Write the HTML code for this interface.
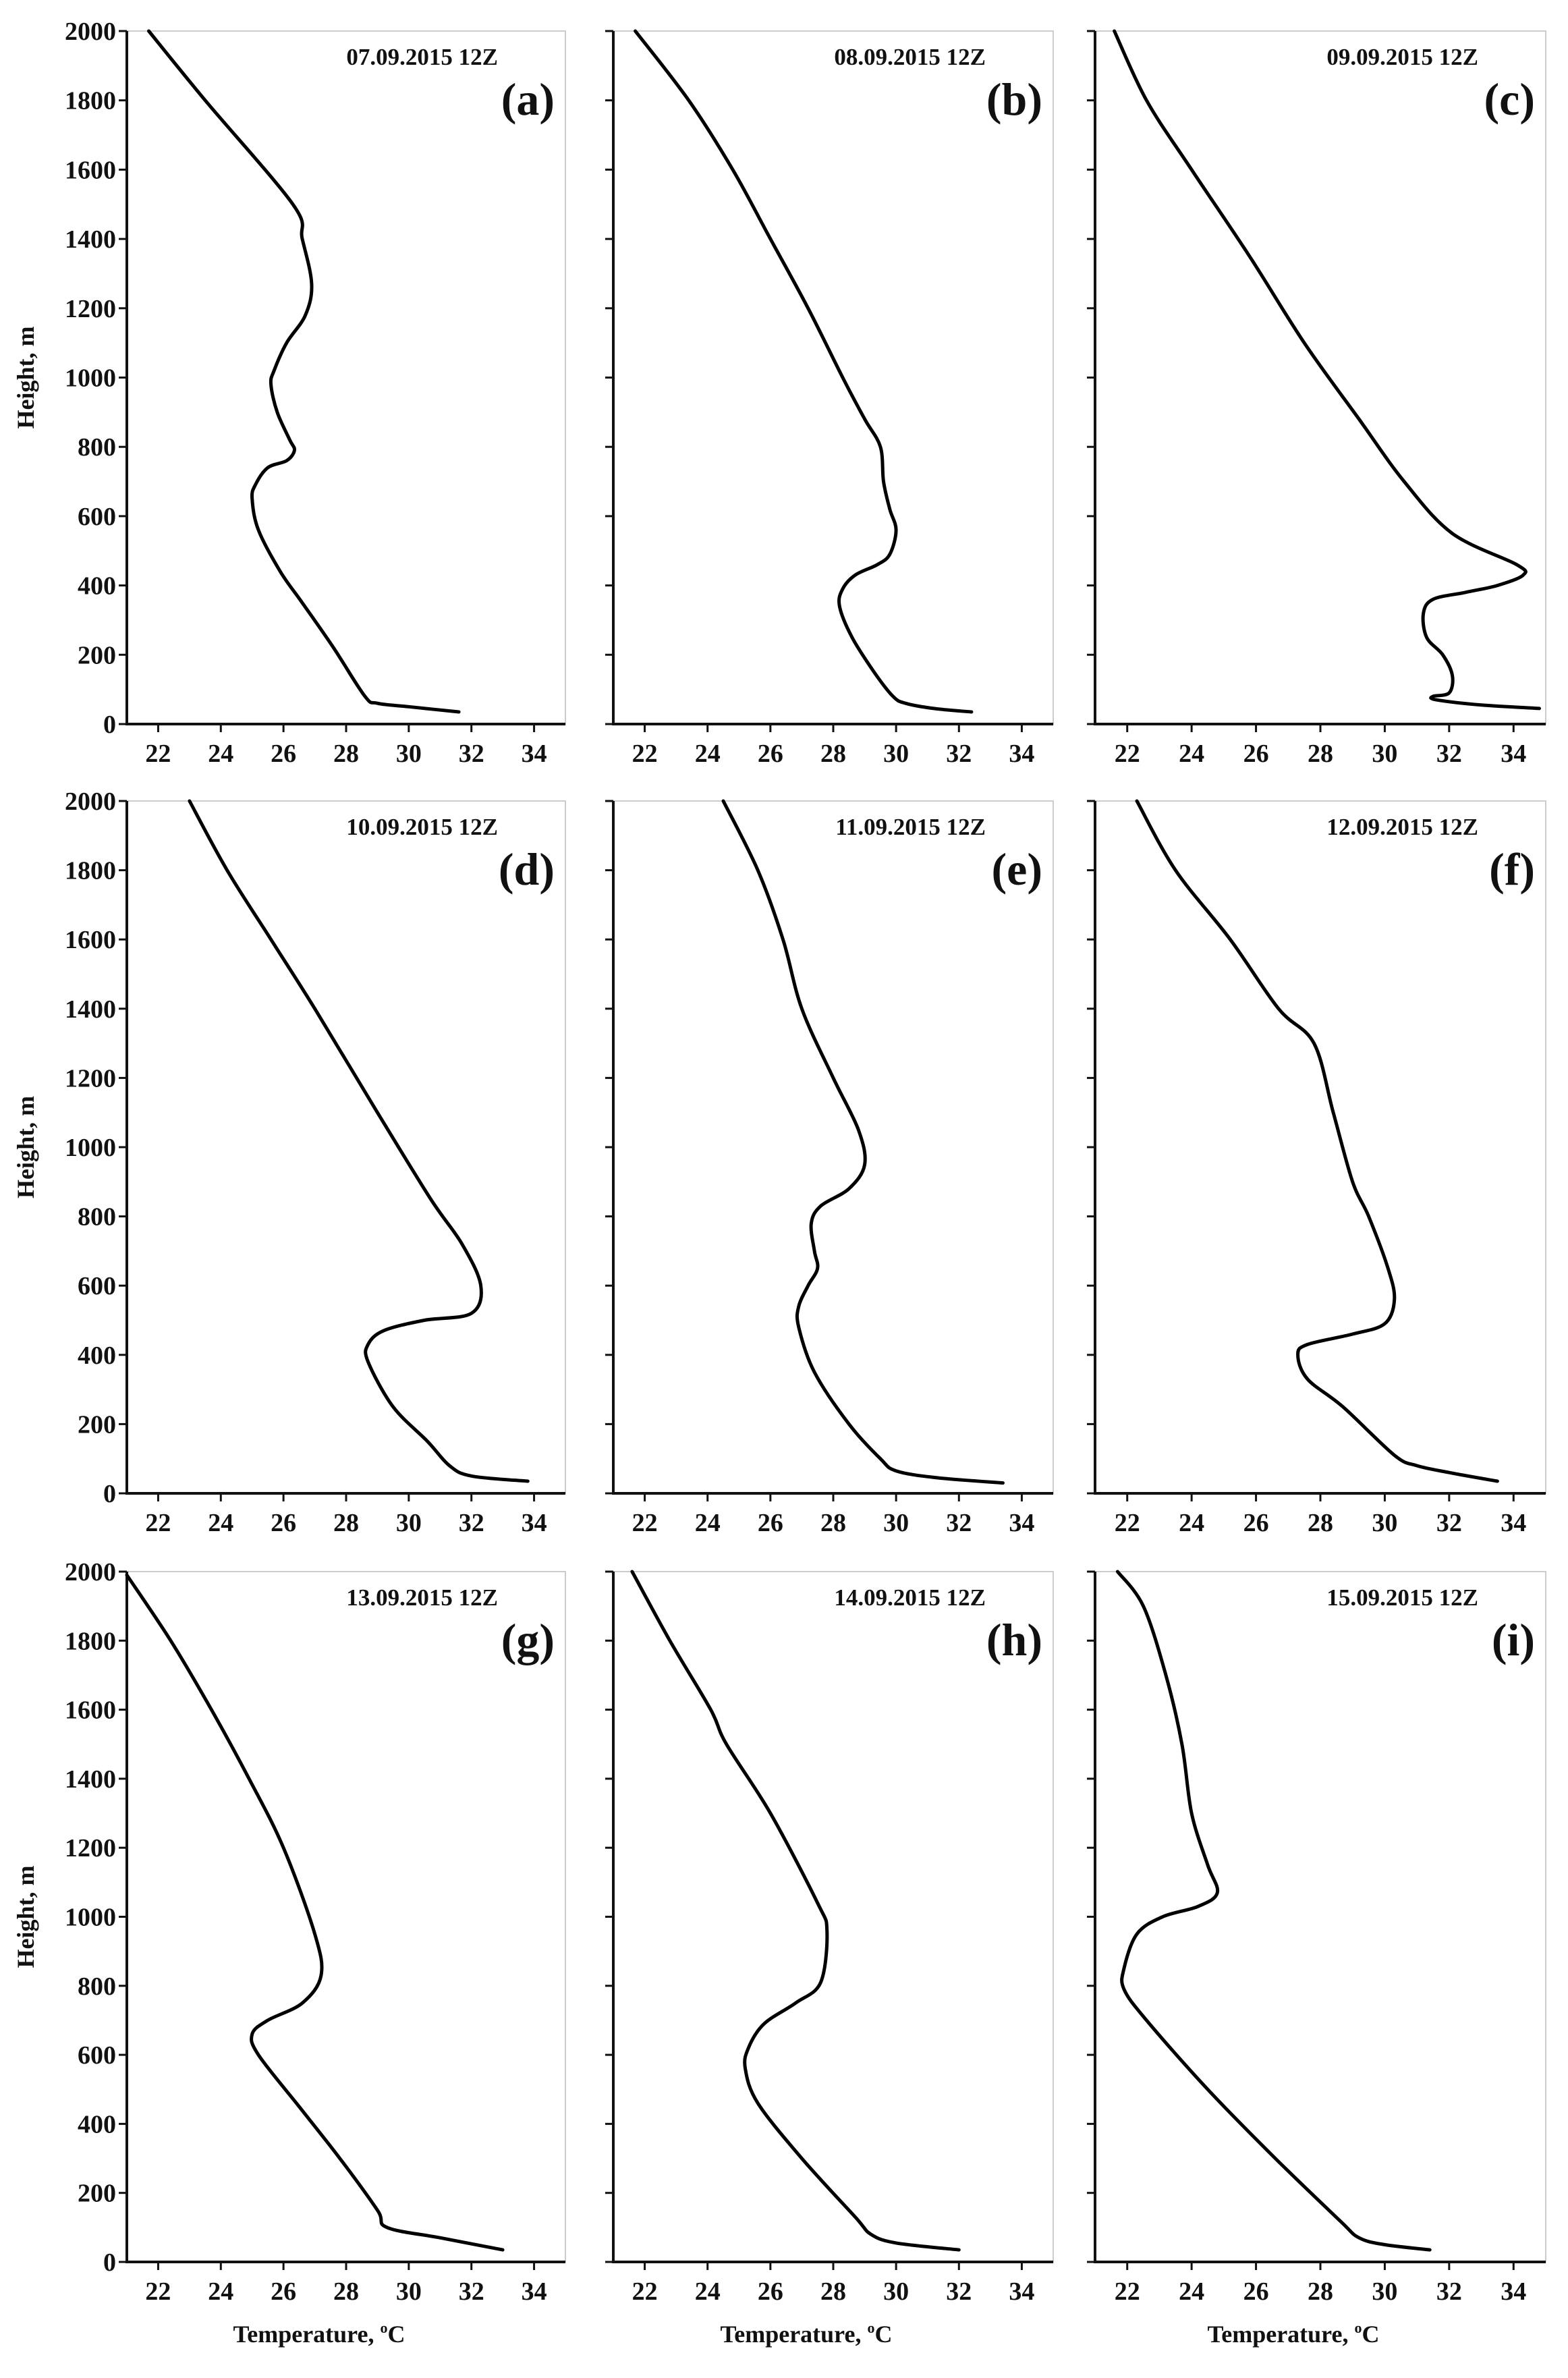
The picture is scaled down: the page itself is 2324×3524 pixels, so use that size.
<!DOCTYPE html>
<html><head><meta charset="utf-8"><style>
html,body{margin:0;padding:0;background:#fff}
svg{display:block}
text{font-family:"Liberation Serif",serif;font-weight:bold;fill:#111}
</style></head><body>
<svg id="fig" width="2324" height="3524" viewBox="0 0 2324 3524" xmlns="http://www.w3.org/2000/svg"></svg>
<script>
const xTicks=[22,24,26,28,30,32,34];
const yTicks=[0,200,400,600,800,1000,1200,1400,1600,1800,2000];
const dates=["07.09.2015  12Z","08.09.2015  12Z","09.09.2015  12Z","10.09.2015  12Z","11.09.2015  12Z","12.09.2015  12Z","13.09.2015  12Z","14.09.2015  12Z","15.09.2015  12Z"];
const letters=["(a)","(b)","(c)","(d)","(e)","(f)","(g)","(h)","(i)"];
const tA=[21.7,23.5,26.3,26.6,26.9,26.7,26.1,25.7,25.6,25.8,26.2,26.35,26.1,25.5,25.1,25.0,25.2,25.9,26.6,27.6,28.6,29.0,30,31.6];
const hA=[2000,1800,1500,1400,1270,1180,1100,1020,980,900,820,790,760,740,690,650,560,440,350,220,80,60,50,35];
const tB=[21.7,23.4,24.8,26,27.2,28.3,29,29.5,29.6,29.8,30,29.8,29.4,28.7,28.3,28.2,28.6,29.3,29.9,30.3,31.2,32.4];
const hB=[2000,1800,1600,1400,1200,1000,880,800,700,620,560,490,460,430,390,340,250,150,80,60,45,35];
const tC=[21.6,22.6,24,25.8,27.5,29.2,30.6,32.1,34.1,34.3,33.5,32.5,31.5,31.2,31.3,31.8,32.1,32,31.5,31.6,33,34.8];
const hC=[2000,1800,1600,1350,1100,880,700,550,460,430,400,380,360,320,250,200,140,90,80,70,55,45];
const tD=[23,24.2,25.6,27,29,30.7,31.7,32.3,32,30.5,29.2,28.7,28.7,29.5,30.6,31.3,32,33.8];
const hD=[2000,1800,1600,1400,1100,850,720,600,520,500,470,430,380,250,150,80,50,35];
const tE=[24.5,25.6,26.4,27,28,28.8,29,28.5,27.6,27.3,27.4,27.5,27.2,26.9,26.9,27.4,28.5,29.5,30,31.3,33.4];
const hE=[2000,1800,1600,1400,1200,1050,950,880,830,780,700,650,600,540,480,350,200,100,65,45,30];
const tF=[22.3,23.5,25.2,26.7,27.8,28.4,29,29.5,30.1,30.3,30,29,27.6,27.3,27.6,28.7,30.3,31,32,33.5];
const hF=[2000,1800,1600,1400,1300,1100,900,800,650,560,490,460,430,400,330,250,110,80,60,35];
const tG=[21,22.4,23.7,24.9,26,27,27.2,26.6,25.5,25,25.2,26.5,27.8,29,29.3,31,33];
const hG=[1990,1800,1600,1400,1200,950,830,750,700,660,600,450,300,150,100,70,35];
const tH=[21.6,22.8,24.1,24.6,26,27.5,27.8,27.6,26.8,25.8,25.3,25.2,25.6,27,28.7,29.2,30,32];
const hH=[2000,1800,1600,1500,1300,1040,960,810,750,690,620,560,460,300,130,80,55,35];
const tI=[21.7,22.5,23.2,23.7,24,24.5,24.8,24.2,23.1,22.3,21.9,21.9,22.6,24.5,26.6,28.6,29.2,30,31.4];
const hI=[2000,1900,1700,1500,1300,1150,1070,1030,1000,950,850,790,700,500,300,120,70,50,35];
const temps=[tA,tB,tC,tD,tE,tF,tG,tH,tI];
const heights=[hA,hB,hC,hD,hE,hF,hG,hH,hI];

const NS="http://www.w3.org/2000/svg";
const svg=document.getElementById('fig');
function mk(tag,attrs,parent){const e=document.createElementNS(NS,tag);for(const k in attrs)e.setAttribute(k,attrs[k]);(parent||svg).appendChild(e);return e;}
const colL=[188,909,1623], colR=[838,1561,2291];
const rowT=[46,1187,2329], rowB=[1073,2213,3352];
function smooth(pts){
  let d="M"+pts[0][0].toFixed(1)+","+pts[0][1].toFixed(1);
  for(let i=0;i<pts.length-1;i++){
    const p0=pts[Math.max(0,i-1)],p1=pts[i],p2=pts[i+1],p3=pts[Math.min(pts.length-1,i+2)];
    const c1=[p1[0]+(p2[0]-p0[0])/6,p1[1]+(p2[1]-p0[1])/6];
    const c2=[p2[0]-(p3[0]-p1[0])/6,p2[1]-(p3[1]-p1[1])/6];
    d+=" C"+c1[0].toFixed(1)+","+c1[1].toFixed(1)+" "+c2[0].toFixed(1)+","+c2[1].toFixed(1)+" "+p2[0].toFixed(1)+","+p2[1].toFixed(1);
  }
  return d;
}
for(let k=0;k<9;k++){
  const r=Math.floor(k/3), c=k%3;
  const L=colL[c],R=colR[c],T=rowT[r],B=rowB[r];
  const xs=v=>L+(v-21)/(35-21)*(R-L);
  const ys=v=>B-(v/2000)*(B-T);
  const g=mk('g',{});
  
  
  const fr=mk('rect',{x:L,y:T,width:R-L,height:B-T,fill:'none',stroke:'#ccc','stroke-width':2},g);
  
  
  const ya=mk('line',{x1:L,y1:T,x2:L,y2:B+2,stroke:'#111','stroke-width':4},g);
  
  
  const xa=mk('line',{x1:L-2,y1:B,x2:R,y2:B,stroke:'#111','stroke-width':4},g);
  
  
  for(const t of yTicks){
    const tk=mk('line',{x1:L-12,y1:ys(t),x2:L,y2:ys(t),stroke:'#111','stroke-width':3},g);
    
    
    if(c===0){
      const tl=mk('text',{x:L-16,y:ys(t)+13,'text-anchor':'end','font-size':38},g);
      tl.textContent=t;
      
      
    }
  }
  for(const t of xTicks){
    const tk=mk('line',{x1:xs(t),y1:B,x2:xs(t),y2:B+12,stroke:'#111','stroke-width':3},g);
    
    
    const tl=mk('text',{x:xs(t),y:B+56,'text-anchor':'middle','font-size':38},g);
    tl.textContent=t;
    
    
  }
  const pts=temps[k].map((t,i)=>[xs(t),ys(heights[k][i])]);
  const p=mk('path',{d:smooth(pts),fill:'none',stroke:'#000','stroke-width':5,'stroke-linejoin':'round','stroke-linecap':'round'},g);
  
  
  const dt=mk('text',{x:R-100,y:T+50,'text-anchor':'end','font-size':35},g);
  dt.textContent=dates[k];
  
  
  const lt=mk('text',{x:R-16,y:T+124,'text-anchor':'end','font-size':68},g);
  lt.textContent=letters[k];
  
  
  if(c===0){
    const yl=mk('text',{x:0,y:0,'text-anchor':'middle','font-size':36,transform:'translate(50,'+((T+B)/2)+') rotate(-90)'},g);
    yl.textContent='Height,  m';
    
    
  }
  if(r===2){
    const xl=mk('text',{x:(L+R)/2-40,y:3471,'text-anchor':'middle','font-size':36},g);
    xl.innerHTML='Temperature,  <tspan font-size="22" dy="-14">o</tspan><tspan dy="14">C</tspan>';
    
    
  }
}
</script>
</body></html>
